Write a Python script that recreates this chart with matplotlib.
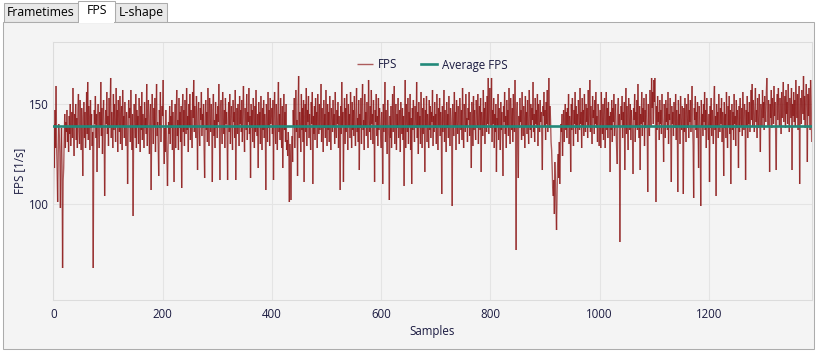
import numpy as np
import matplotlib
matplotlib.use("Agg")
import matplotlib.pyplot as plt
from matplotlib.patches import Rectangle
from matplotlib.collections import LineCollection

# ---------------- data ----------------
fps_0 = [99,140,118,147,128,159,130,117,101,125,140,134,126,98,122,138,119,68,112,118,
         133,145,128,141,136,147,131,139,126,144,135,150,129,140,146,133,158,137,124,145,
         139,150,132,143,128,147,155,136,130,152,141,127,148,138,114,143,151,133,146,128,
         140,156,135,161,132,149,143,127,152,138,145,129,136,68,131,147,140,154,133,145,
         116,142,150,137,128,146,139,161,134,148,125,143,152,138,104,130,147,140,156,135,
         144,129,153,138,148,163,133,146,140,128,155,137,150,142,131,158,139,147,126,152,
         141,136,154,130,145,149,127,157,139,144,133,151,138,129,146,141,110,135,152,143,
         148,131,157,139,127,145,94,136,150,141,133,155,128,147,139,144,130,153,142,126,
         149,137,156,132,145,140,128,151,138,143,135,160,129,147,152,139,125,144,150,107,
         137,155,142,130,148,139,153,126,145,160,134,141,128,114,147,138,156,131,143,149]
fps_1 = [144,162,131,120,138,126,147,133,122,109,128,141,135,149,130,144,138,152,127,146,
         132,111,139,150,128,145,157,134,142,127,153,138,146,131,149,108,140,155,136,147,
         129,152,141,135,158,137,144,126,150,139,155,132,147,140,128,156,143,162,136,149,
         141,133,154,139,117,146,151,137,129,148,142,156,134,145,138,150,127,113,143,152,
         137,146,131,158,140,129,153,144,136,150,139,111,147,155,134,142,128,151,138,145,
         133,149,141,160,137,112,148,152,139,130,156,143,135,147,128,153,140,146,134,112,
         142,151,136,155,130,144,149,138,127,152,141,146,133,157,112,139,148,135,150,143,
         129,154,140,147,136,152,131,145,159,138,126,148,143,137,155,132,146,141,158,135,
         144,113,150,138,147,131,153,142,128,149,136,157,140,134,145,118,151,139,146,130,
         154,141,127,148,137,152,133,145,139,107,150,143,131,156,138,147,129,153,140,144]
fps_2 = [148,135,152,112,143,156,138,130,150,141,127,147,161,136,145,132,153,139,128,149,
         118,142,155,137,146,131,150,127,132,124,136,128,101,130,122,102,126,134,121,147,
         139,153,128,145,157,136,142,114,150,164,133,146,140,126,155,137,148,131,152,111,
         143,150,136,158,129,147,141,154,133,145,138,127,151,140,156,110,144,135,149,132,
         153,139,146,128,155,142,135,150,137,144,160,131,148,140,126,152,138,145,133,157,
         141,129,150,137,146,131,154,140,127,148,143,136,152,139,145,130,156,138,133,147,
         140,151,128,144,138,107,149,135,161,139,146,111,142,153,130,148,136,155,141,127,
         150,139,145,133,156,142,128,151,137,147,134,154,140,129,146,158,136,143,131,152,
         117,145,138,153,130,148,160,137,142,127,155,139,146,134,151,141,128,162,143,136,
         149,132,157,140,145,130,152,138,111,147,141,155,134,144,129,153,137,148,142,135]
fps_3 = [128,146,139,110,150,136,143,161,131,147,138,125,152,140,134,102,144,133,149,128,
         141,155,136,146,159,130,143,150,127,145,138,153,133,140,147,126,151,142,135,148,
         132,144,109,139,162,128,150,141,136,153,130,146,139,155,127,143,110,148,137,152,
         140,131,149,144,138,161,133,146,125,151,139,144,130,156,141,128,148,135,153,142,
         116,147,139,154,131,145,140,128,152,137,149,133,146,141,157,129,144,136,151,138,
         145,130,155,142,127,148,139,153,134,146,141,105,149,136,143,157,131,147,140,126,
         151,138,145,133,154,140,129,148,143,137,99,150,141,134,156,139,146,127,152,142,
         135,149,141,130,153,144,137,147,132,158,140,128,150,145,136,155,139,143,131,148,
         142,156,134,146,139,118,151,143,129,154,137,147,140,132,152,145,138,155,130,144,
         149,137,153,116,146,141,134,157,138,148,130,151,143,136,154,140,163,135,147,158]
fps_4 = [142,138,163,131,147,140,153,128,145,136,150,116,143,139,155,132,148,141,127,151,
         137,146,133,114,149,141,156,135,144,128,152,139,147,134,158,140,130,153,145,137,
         148,131,155,142,136,162,139,77,146,151,129,113,144,138,153,141,147,132,156,140,
         134,149,143,128,154,139,146,135,152,141,130,157,144,137,150,133,148,142,161,136,
         145,131,153,140,147,138,155,129,150,143,136,152,141,146,134,117,149,144,156,139,
         147,132,151,140,157,136,145,163,138,149,142,131,127,118,108,104,112,95,121,112,
         98,87,106,119,125,113,131,110,128,140,136,145,124,139,147,131,143,150,137,146,
         133,148,139,155,130,144,141,116,150,137,153,143,129,147,140,156,135,149,138,145,
         131,152,144,137,158,140,146,128,153,139,147,134,155,142,136,150,141,148,133,157,
         139,145,162,136,149,141,130,154,143,147,135,152,140,156,138,144,131,150,146,129]
fps_5 = [138,147,128,156,141,135,150,132,145,153,128,142,156,137,148,133,151,139,144,116,
         146,137,152,131,148,141,155,134,144,150,138,128,120,147,153,139,145,81,136,149,
         142,154,133,146,139,151,117,144,158,135,149,140,127,153,143,137,150,132,147,141,
         136,115,148,142,155,131,146,139,152,137,160,143,133,149,117,145,140,156,134,148,
         141,153,129,147,138,155,144,136,106,150,141,134,157,145,139,163,148,156,140,162,
         151,163,143,101,149,137,154,141,146,132,152,140,147,135,155,143,138,121,150,144,
         133,152,141,148,137,156,130,145,142,153,136,111,149,140,146,134,151,143,138,155,
         132,147,141,106,152,139,145,130,154,143,137,149,140,105,148,136,153,142,131,150,
         144,138,155,133,147,141,152,136,145,159,140,129,103,148,142,154,137,146,133,151,
         140,118,149,143,136,99,152,139,145,134,150,141,156,137,147,128,153,142,138,132]
fps_6 = [145,111,149,138,153,134,147,141,130,152,159,137,144,104,150,139,146,133,155,142,
         136,148,140,153,131,146,143,114,151,138,145,133,156,141,128,149,139,154,135,147,
         110,143,150,137,146,132,155,140,144,129,152,138,147,141,118,149,136,153,143,139,
         148,134,156,141,137,150,145,112,147,139,154,133,146,140,151,136,144,157,142,160,
         139,152,145,136,149,158,141,147,133,153,144,138,155,142,126,150,146,139,157,143,
         151,137,154,146,141,156,163,148,139,152,145,116,150,143,157,138,153,147,140,159,
         144,151,137,117,149,155,142,158,146,139,153,147,135,156,143,150,161,141,148,154,
         138,157,145,151,140,160,147,136,153,149,143,158,117,150,144,156,141,152,139,162,
         148,143,155,137,151,159,110,146,153,140,157,149,145,164,142,154,138,150,160,147,
         121,155,144,158,148,137,162,151,131]

avg_fps = 139.0
x_ticks = [0, 200, 400, 600, 800, 1000, 1200]
y_ticks = [100, 150]
tab_labels = ["Frametimes", "FPS", "L-shape"]
x_label = "Samples"
y_label = "FPS [1/s]"

fps = np.array(fps_0 + fps_1 + fps_2 + fps_3 + fps_4 + fps_5 + fps_6, dtype=float)
samples = np.arange(len(fps))

# ---------------- styling ----------------
FONT = ["Open Sans", "DejaVu Sans"]
plt.rcParams["font.family"] = FONT
FS = 8.3
TXT = "#1a1a40"

W, H = 816, 353
fig = plt.figure(figsize=(W / 100, H / 100), dpi=100)
fig.patch.set_facecolor("white")

# background axes in pixel coordinates (tabs + panel)
bg = fig.add_axes([0, 0, 1, 1], zorder=0)
bg.set_xlim(0, W)
bg.set_ylim(H, 0)
bg.axis("off")

tab_geo = [(4, 78), (78, 115), (115, 166.5)]
for i, ((x0, x1), lab) in enumerate(zip(tab_geo, tab_labels)):
    if i != 1:
        bg.add_patch(Rectangle((x0, 2.5), x1 - x0, 19, facecolor="#e9e9e9",
                               edgecolor="#acacac", lw=0.75))
bg.add_patch(Rectangle((2.5, 21.5), 811, 327.5, facecolor="#f4f4f4",
                       edgecolor="#acacac", lw=0.75))
x0, x1 = tab_geo[1]
bg.add_patch(Rectangle((x0, 0.5), x1 - x0, 21.5, facecolor="white",
                       edgecolor="#acacac", lw=0.75))
bg.add_patch(Rectangle((x0 + 0.6, 20.5), x1 - x0 - 1.2, 2.2, facecolor="white",
                       edgecolor="none"))
for i, ((x0, x1), lab) in enumerate(zip(tab_geo, tab_labels)):
    yc = 11.0 if i == 1 else 12.3
    bg.text((x0 + x1) / 2, yc, lab, ha="center", va="center", fontsize=FS + 0.5,
            color="black", family=FONT)

# plot axes
L, R, T, B = 53.3, 811.7, 42, 300
ax = fig.add_axes([L / W, (H - B) / H, (R - L) / W, (B - T) / H], zorder=1)
ax.set_facecolor("none")

pts = np.column_stack([samples, fps]).reshape(-1, 1, 2)
segs = np.concatenate([pts[:-1], pts[1:]], axis=1)
lc = LineCollection(segs, colors="#8b1414", linewidths=1.0, alpha=0.68, label="FPS")
ax.add_collection(lc)
ax.axhline(avg_fps, color="#22897a", lw=1.9, label="Average FPS", zorder=3)

ax.set_xlim(samples[0], samples[-1])
ax.set_ylim(52, 181)
ax.set_xticks(x_ticks)
ax.set_yticks(y_ticks)
ax.grid(True, color="#e4e4e4", lw=0.75)
ax.set_axisbelow(True)
for s in ax.spines.values():
    s.set_color("#dcdcdc")
    s.set_linewidth(0.75)
ax.tick_params(axis="both", length=0, labelsize=FS, labelcolor=TXT)
ax.tick_params(axis="x", pad=6)
ax.tick_params(axis="y", pad=3.5)
ax.set_xlabel(x_label, fontsize=FS, color=TXT, labelpad=3)
ax.set_ylabel(y_label, fontsize=FS, color=TXT, labelpad=2)

fsz_px = FS * 100 / 72
leg = ax.legend(loc="center", bbox_to_anchor=(0.5, (B - 65) / (B - T)), ncol=2,
                frameon=False, fontsize=FS, handlelength=16 / fsz_px,
                handletextpad=5 / fsz_px, columnspacing=24 / fsz_px, borderpad=0)
for t in leg.get_texts():
    t.set_color(TXT)

fig.savefig("out.png", dpi=100, facecolor=fig.get_facecolor())
